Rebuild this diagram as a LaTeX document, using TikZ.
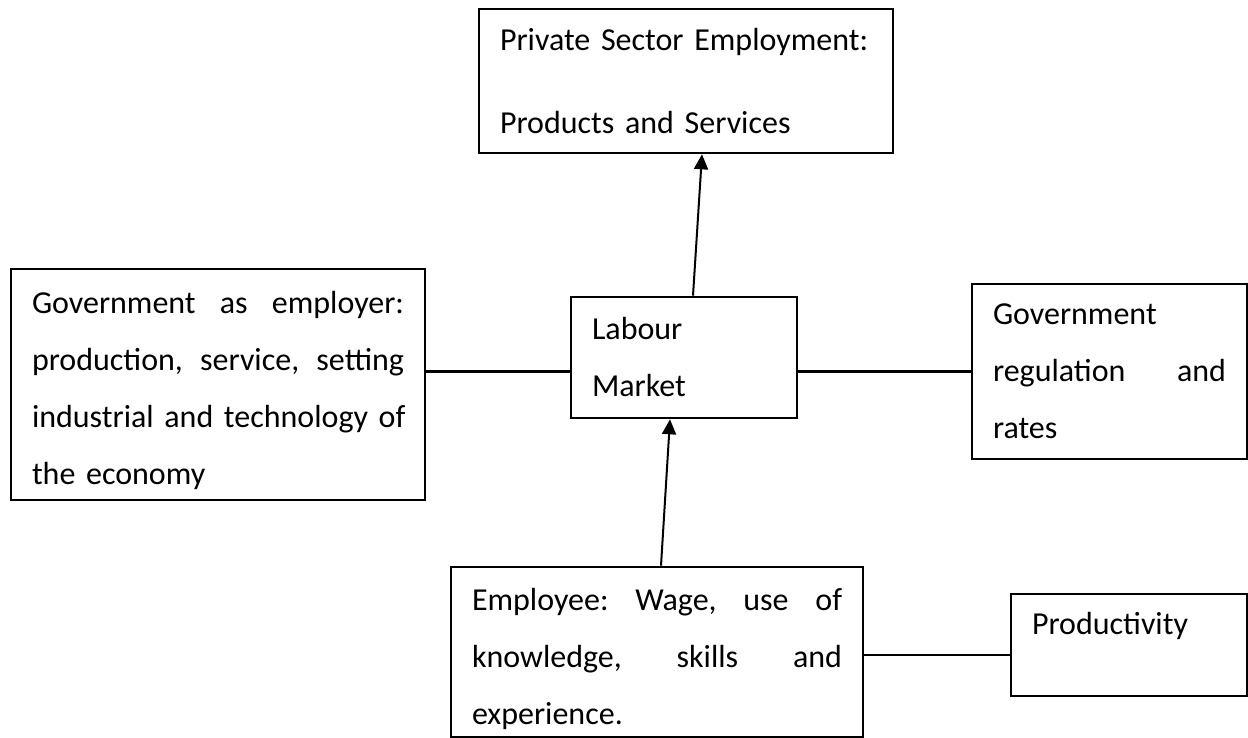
\documentclass[tikz,border=0pt]{standalone}
\usepackage{fontspec}
\setmainfont{Carlito}
\usetikzlibrary{arrows.meta,positioning}

\begin{document}
\begin{tikzpicture}[x=1pt, y=1pt,
  box/.style={draw, line width=2.6pt, align=left, inner xsep=21pt, inner ysep=0pt, font=\fontsize{32}{57}\selectfont},
  arr/.style={-{Triangle[length=15pt,width=14pt]}, line width=2pt},
  ln/.style={line width=2.2pt},
]
  \useasboundingbox (0,0) rectangle (1248,-738);

  \node[box, text width=372pt, minimum height=144pt] (priv) at (686,-81) {Private Sector Employment:\\[26pt] Products and Services};
  \node[box, text width=184pt, minimum height=121pt] (lab) at (684,-357.5) {Labour\\ Market};
  \node[box, text width=372pt, minimum height=231pt] (govemp) at (218,-384.5)
    {\rule{0pt}{34pt}Government\hfill as\hfill employer:\\ production,\hfill service,\hfill setting\\ \mbox{industrial and technology of}\\ the economy};
  \node[box, text width=233pt, minimum height=175pt] (govreg) at (1109.5,-371.5)
    {Government\\ regulation\hfill and\\ rates};
  \node[box, text width=370pt, minimum height=170pt] (emp) at (657,-652)
    {\rule{0pt}{37pt}Employee:\hfill Wage,\hfill use\hfill of\\ knowledge,\hfill skills\hfill and\\ experience.};
  \node[box, text width=194pt, minimum height=102pt, text height=23pt, text depth=44pt] (prod) at (1129,-645) {Productivity};

  \draw[arr] ([xshift=4pt]emp.north) -- ([xshift=-14pt]lab.south);
  \draw[arr] ([xshift=9pt]lab.north) -- ([xshift=16pt]priv.south);
  \draw[ln] (lab.west |- govreg.west) -- (govemp.east |- govreg.west);
  \draw[ln] (govreg.west) -- (govreg.west -| lab.east);
  \draw[ln] ([yshift=-3pt]emp.east) -- ([yshift=-3pt]emp.east -| prod.west);
\end{tikzpicture}
\end{document}
